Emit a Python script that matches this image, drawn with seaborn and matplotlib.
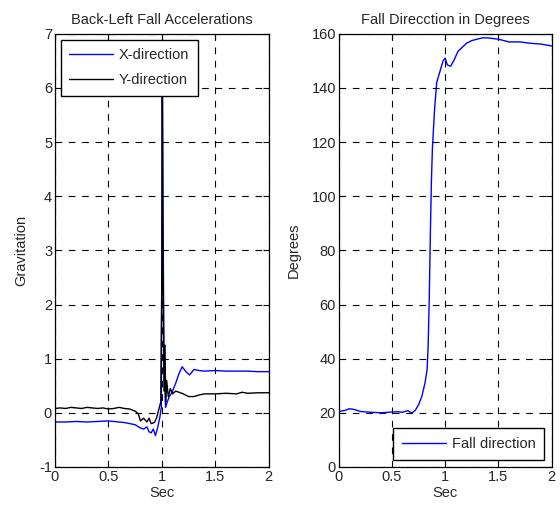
import numpy as np
import pandas as pd
import matplotlib
matplotlib.use("Agg")
import matplotlib.pyplot as plt
import seaborn as sns

# acceleration (g) in X and Y direction
t_x = [0, 0.1, 0.2, 0.3, 0.4, 0.5, 0.55, 0.6, 0.65, 0.7, 0.75, 0.8, 0.83, 0.86, 0.88,
       0.9, 0.92, 0.94, 0.96, 0.98, 0.995, 1.0, 1.005, 1.01, 1.02, 1.035, 1.05, 1.07,
       1.1, 1.13, 1.16, 1.19, 1.23, 1.26, 1.3, 1.35, 1.4, 1.5, 1.6, 1.7, 1.8, 1.9, 2.0]
acc_x = [-0.17, -0.17, -0.16, -0.17, -0.16, -0.15, -0.16, -0.17, -0.18, -0.2, -0.22,
         -0.28, -0.3, -0.26, -0.35, -0.37, -0.3, -0.42, -0.28, -0.1, 0.1, 3.0, 6.3, 4.0,
         1.0, 0.1, 0.2, 0.3, 0.4, 0.55, 0.72, 0.85, 0.75, 0.7, 0.8, 0.78, 0.77, 0.78,
         0.77, 0.77, 0.77, 0.76, 0.76]

t_y = [0, 0.05, 0.1, 0.15, 0.2, 0.25, 0.3, 0.35, 0.4, 0.45, 0.5, 0.55, 0.6, 0.65, 0.7,
       0.75, 0.78, 0.8, 0.83, 0.86, 0.88, 0.9, 0.93, 0.95, 0.97, 0.99, 1.0, 1.005, 1.01,
       1.02, 1.03, 1.035, 1.045, 1.06, 1.08, 1.1, 1.13, 1.16, 1.2, 1.25, 1.3, 1.35, 1.4,
       1.5, 1.6, 1.7, 1.75, 1.8, 1.9, 2.0]
acc_y = [0.08, 0.09, 0.08, 0.1, 0.09, 0.08, 0.1, 0.09, 0.08, 0.09, 0.07, 0.08, 0.1, 0.08,
         0.07, 0.03, -0.02, -0.15, -0.1, -0.17, -0.1, -0.2, -0.18, -0.1, 0.05, 0.2, 2.5,
         6.1, 3.0, 0.4, 1.25, 0.2, 0.6, 0.3, 0.45, 0.35, 0.4, 0.38, 0.35, 0.3, 0.3, 0.33,
         0.35, 0.35, 0.36, 0.35, 0.38, 0.36, 0.37, 0.37]

# fall direction (degrees)
t_d = [0, 0.05, 0.1, 0.15, 0.2, 0.3, 0.4, 0.5, 0.55, 0.6, 0.65, 0.68, 0.7, 0.72, 0.75,
       0.78, 0.81, 0.83, 0.84, 0.85, 0.86, 0.87, 0.88, 0.9, 0.92, 0.95, 0.98, 1.0, 1.02,
       1.05, 1.08, 1.12, 1.16, 1.2, 1.25, 1.3, 1.35, 1.4, 1.5, 1.6, 1.7, 1.8, 1.9, 2.0]
deg = [20.5, 20.8, 21.5, 21.2, 20.5, 20.2, 20.0, 20.3, 20.4, 20.2, 20.8, 20.0, 20.3, 21,
       23, 26, 31, 36, 45, 62, 85, 105, 118, 132, 142, 146, 150, 151, 148.5, 148, 150,
       153.5, 155, 156.5, 157.5, 158, 158.5, 158.5, 158, 157, 157, 156.5, 156.2, 155.5]

sns.set_style("white")
plt.rcParams['font.family'] = ['Liberation Sans', 'DejaVu Sans']
plt.rcParams['font.size'] = 10
plt.rcParams['axes.unicode_minus'] = False

fig = plt.figure(figsize=(5.6, 5.12), dpi=100)
ax1 = fig.add_axes([0.098, 0.088, 0.382, 0.846])
ax2 = fig.add_axes([0.605, 0.088, 0.380, 0.846])

sns.lineplot(x=t_x, y=acc_x, ax=ax1, color='#0000ff', lw=1, label='X-direction')
sns.lineplot(x=t_y, y=acc_y, ax=ax1, color='black', lw=1, label='Y-direction')
ax1.set_xlim(0, 2)
ax1.set_ylim(-1, 7)
ax1.set_yticks(range(-1, 8))
ax1.set_title('Back-Left Fall Accelerations', fontsize=10.5, pad=7)
ax1.set_ylabel('Gravitation', fontsize=10.5, labelpad=8)
ax1.set_xlabel('Sec', fontsize=10.5, labelpad=2)
ax1.legend(loc='upper left', fancybox=False, edgecolor='black', framealpha=1,
           handlelength=3.0, handletextpad=0.4, borderpad=0.6, labelspacing=0.75,
           fontsize=10.5, borderaxespad=0.4)

sns.lineplot(x=t_d, y=deg, ax=ax2, color='#0000ff', lw=1, label='Fall direction')
ax2.set_xlim(0, 2)
ax2.set_ylim(0, 160)
ax2.set_yticks(range(0, 161, 20))
ax2.set_title('Fall Direcction in Degrees', fontsize=10.5, pad=7)
ax2.set_ylabel('Degrees', fontsize=10.5, labelpad=8)
ax2.set_xlabel('Sec', fontsize=10.5, labelpad=2)
ax2.legend(loc='lower right', fancybox=False, edgecolor='black', framealpha=1,
           handlelength=3.0, handletextpad=0.4, borderpad=0.6, fontsize=10.5,
           borderaxespad=0.5)

for ax in (ax1, ax2):
    ax.set_xticks([0, 0.5, 1, 1.5, 2])
    ax.set_xticklabels(['0', '0.5', '1', '1.5', '2'])
    ax.grid(True, color='black', ls=(0, (6, 6)), lw=0.8)
    ax.tick_params(direction='in', length=4, top=True, right=True, color='black',
                   labelsize=10.5, pad=2)
    for s in ax.spines.values():
        s.set_color('black')
        s.set_linewidth(0.9)

fig.savefig('out.png', dpi=100, facecolor='white')
